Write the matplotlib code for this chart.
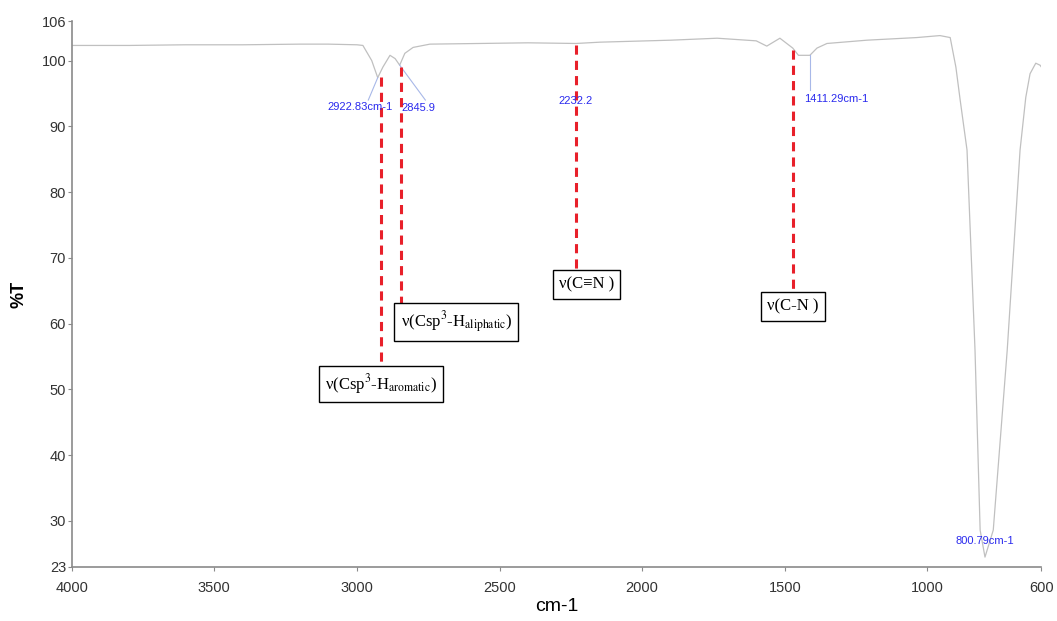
import matplotlib
matplotlib.use("Agg")
import matplotlib.pyplot as plt
import numpy as np

# IR spectrum (wavenumber cm-1, %T)
wavenumber = [4000, 3800, 3600, 3400, 3200, 3100, 3000, 2979, 2948, 2927, 2909,
              2884, 2866, 2850, 2832, 2803, 2744, 2569, 2400, 2232, 2147,
              1900, 1737, 1600, 1563, 1517, 1472, 1452, 1412, 1387, 1352,
              1212, 1037, 956, 920, 900, 885, 861, 833, 815, 798, 769,
              720, 675, 655, 640, 620, 605, 600]
transmittance = [102.3, 102.3, 102.4, 102.4, 102.5, 102.5, 102.4, 102.3, 100.0, 97.4, 99.0,
                 100.8, 100.3, 99.3, 101.1, 102.0, 102.5, 102.6, 102.7, 102.6, 102.8,
                 103.1, 103.4, 103.0, 102.2, 103.4, 101.9, 100.8, 100.8, 101.9, 102.6,
                 103.1, 103.5, 103.8, 103.5, 99.0, 94.0, 86.4, 56.0, 28.6, 24.5, 28.6,
                 56.0, 86.4, 94.4, 98.0, 99.6, 99.3, 99.0]

# peak labels
peak_labels = ["2922.83cm-1", "2845.9", "2232.2", "1411.29cm-1", "800.79cm-1"]
peak_label_x = [2990, 2785, 2232, 1320, 800]
peak_label_y = [92.9, 92.8, 93.9, 94.2, 27.0]

# assignments with red dashed guides
assign_text = [r"ν(Csp$^{3}$-H$_{\mathrm{aromatic}}$)",
               r"ν(Csp$^{3}$-H$_{\mathrm{aliphatic}}$)",
               "ν(C≡N )", "ν(C-N )"]
guide_x = [2915, 2846, 2232, 1472]
guide_top = [97.5, 99.0, 102.4, 101.6]
guide_bottom = [52.9, 62.0, 68.2, 64.8]
box_x = [2915, 2651, 2195, 1472]
box_y = [50.8, 60.2, 66.0, 62.6]

plt.rcParams['font.family'] = ['Liberation Sans', 'DejaVu Sans']
plt.rcParams['mathtext.fontset'] = 'stix'

fig = plt.figure(figsize=(10.57, 6.21), dpi=100)
ax = fig.add_axes([0.0678, 0.087, 0.9175, 0.879])

ax.plot(wavenumber, transmittance, color='#c0c0c0', lw=0.9)

# light blue leader lines
ax.plot([2927, 2960], [97.4, 94.0], color='#a8b8e8', lw=0.8)
ax.plot([2850, 2760], [99.3, 94.0], color='#a8b8e8', lw=0.8)
ax.plot([1412, 1412], [100.8, 95.5], color='#a8b8e8', lw=0.8)

for gx, gt, gb in zip(guide_x, guide_top, guide_bottom):
    ax.plot([gx, gx], [gt, gb], color='#e8202a', lw=2.2, ls=(0, (3, 2)))

for lbl, lx, ly in zip(peak_labels, peak_label_x, peak_label_y):
    ax.text(lx, ly, lbl, color='#2a2aee', fontsize=8, ha='center', va='center')

for t, bx, by in zip(assign_text, box_x, box_y):
    ax.text(bx, by, t, fontsize=12, family='Liberation Serif', ha='center', va='center',
            bbox=dict(boxstyle='square,pad=0.38', fc='white', ec='black', lw=1.0))

ax.set_xlim(4000, 600)
ax.set_ylim(23, 106)
ax.set_xticks([4000, 3500, 3000, 2500, 2000, 1500, 1000, 600])
ax.set_yticks([23, 30, 40, 50, 60, 70, 80, 90, 100, 106])
for s in ['top', 'right']:
    ax.spines[s].set_visible(False)
for s in ['left', 'bottom']:
    ax.spines[s].set_color('#8a8a8a')
    ax.spines[s].set_linewidth(1.2)
ax.tick_params(length=3, color='#8a8a8a', labelsize=10.5, labelcolor='#333333', pad=1)
ax.tick_params(axis='x', pad=7)

ax.set_xlabel('cm-1', fontsize=14, labelpad=2)
ax.set_ylabel('%T', fontsize=13, fontweight='bold', labelpad=10)

fig.savefig('out.png', dpi=100)
